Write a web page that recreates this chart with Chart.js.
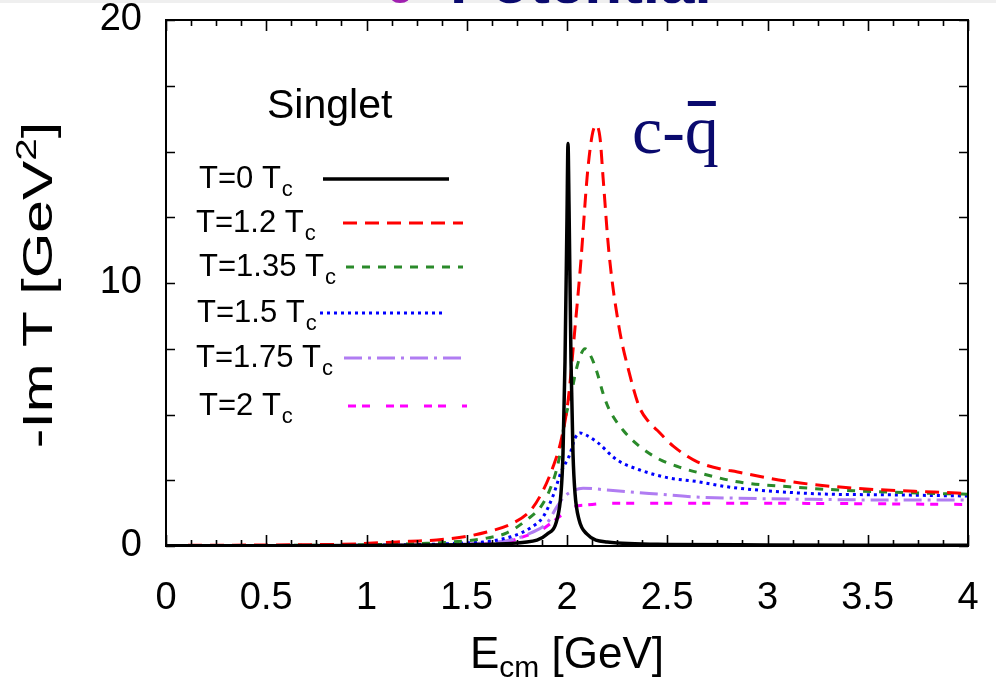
<!DOCTYPE html>
<html>
<head>
<meta charset="utf-8">
<script src="https://cdn.jsdelivr.net/npm/chart.js@4.4.1/dist/chart.umd.min.js"></script>
<style>
html,body{margin:0;padding:0;background:#fff;}
canvas{display:block;}
</style>
</head>
<body>
<canvas id="c" width="996" height="681"></canvas>
<script>
// ---------- data ----------
const seriesLabels = ['T=0', 'T=1.2', 'T=1.35', 'T=1.5', 'T=1.75', 'T=2'];

const xT0   = [0, 0.5, 1.0, 1.5, 1.8, 1.9, 1.95, 1.97, 1.98, 1.99, 2.0, 2.005, 2.01, 2.02, 2.03, 2.04, 2.06, 2.1, 2.2, 2.5, 3.0, 3.5, 4.0];
const yT0   = [0.01, 0.01, 0.02, 0.05, 0.15, 0.45, 1.0, 2.0, 3.5, 7.0, 12.5, 15.3, 13.0, 7.0, 3.5, 2.0, 1.0, 0.45, 0.15, 0.06, 0.04, 0.03, 0.03];

const xT12  = [0, 0.5, 0.95, 1.08, 1.22, 1.35, 1.48, 1.6, 1.73, 1.82, 1.88, 1.93, 1.97, 2.005, 2.04, 2.07, 2.1, 2.125, 2.145, 2.165, 2.18, 2.21, 2.26, 2.31, 2.36, 2.41, 2.45, 2.53, 2.65, 2.88, 3.13, 3.43, 3.83, 4.0];
const yT12  = [0.02, 0.04, 0.08, 0.13, 0.18, 0.23, 0.34, 0.53, 0.87, 1.37, 2.1, 3.0, 4.0, 5.5, 8.3, 10.9, 14.0, 15.6, 16.0, 15.5, 14.0, 11.1, 8.3, 6.6, 5.3, 4.7, 4.4, 3.8, 3.2, 2.77, 2.43, 2.2, 2.05, 2.0];

const xT135 = [0, 0.5, 1.0, 1.3, 1.5, 1.6, 1.7, 1.8, 1.87, 1.92, 1.96, 1.99, 2.02, 2.04, 2.065, 2.09, 2.12, 2.15, 2.18, 2.21, 2.28, 2.36, 2.46, 2.56, 2.65, 2.86, 3.11, 3.43, 3.83, 4.0];
const yT135 = [0.01, 0.02, 0.05, 0.1, 0.2, 0.3, 0.5, 1.0, 1.5, 2.25, 3.3, 4.8, 5.7, 6.5, 7.2, 7.5, 7.2, 6.6, 5.8, 5.2, 4.4, 3.8, 3.3, 3.0, 2.8, 2.43, 2.25, 2.1, 2.0, 1.97];

const xT15  = [0, 0.5, 1.0, 1.3, 1.5, 1.58, 1.72, 1.82, 1.88, 1.93, 1.97, 2.015, 2.04, 2.065, 2.1, 2.15, 2.25, 2.36, 2.5, 2.65, 2.8, 3.2, 3.66, 4.0];
const yT15  = [0.01, 0.01, 0.03, 0.06, 0.12, 0.15, 0.35, 0.7, 1.1, 1.9, 2.8, 3.5, 4.1, 4.3, 4.2, 3.95, 3.27, 2.9, 2.6, 2.45, 2.25, 2.0, 1.94, 1.9];

const xT175 = [0, 0.5, 1.0, 1.5, 1.72, 1.82, 1.9, 1.95, 1.99, 2.03, 2.08, 2.2, 2.41, 2.63, 2.83, 3.16, 3.58, 4.0];
const yT175 = [0.01, 0.01, 0.02, 0.08, 0.23, 0.5, 0.87, 1.5, 1.9, 2.1, 2.2, 2.13, 2.0, 1.87, 1.82, 1.78, 1.75, 1.75];

const xT2   = [0, 0.5, 1.0, 1.5, 1.7, 1.78, 1.87, 1.92, 1.96, 2.0, 2.04, 2.1, 2.21, 2.63, 3.2, 4.0];
const yT2   = [0.01, 0.01, 0.02, 0.06, 0.15, 0.35, 0.6, 0.87, 1.1, 1.3, 1.5, 1.56, 1.63, 1.63, 1.62, 1.58];

const xTickLabels = [0, 0.5, 1, 1.5, 2, 2.5, 3, 3.5, 4];
const yTickLabels = [0, 10, 20];
const xMinorStep = 0.125;
const yMinorStep = 2.5;

// ---------- build ----------
function pts(xs, ys) { return xs.map((x, i) => ({x: x, y: ys[i]})); }

const styles = [
  {color: '#000000', dash: [],              width: 3.5},
  {color: '#ff0000', dash: [14, 8],         width: 3},
  {color: '#2a8a2a', dash: [8, 8],          width: 3},
  {color: '#0000ff', dash: [3, 4],          width: 3},
  {color: '#b07cf2', dash: [18, 6, 3, 6],   width: 3},
  {color: '#ff00ff', dash: [8, 6, 8, 16],   width: 3}
];
const seriesX = [xT0, xT12, xT135, xT15, xT175, xT2];
const seriesY = [yT0, yT12, yT135, yT15, yT175, yT2];

const datasets = seriesLabels.map((lab, i) => ({
  label: lab + ' Tc',
  data: pts(seriesX[i], seriesY[i]),
  borderColor: styles[i].color,
  backgroundColor: styles[i].color,
  borderDash: styles[i].dash,
  borderWidth: styles[i].width,
  pointRadius: 0,
  fill: false,
  cubicInterpolationMode: 'monotone',
  tension: 0.4
}));

const SANS = '"Liberation Sans", Arial, Helvetica, sans-serif';
const SERIF = '"Liberation Serif", "Times New Roman", serif';

function noPad(s) { s.paddingLeft = 0; s.paddingRight = 0; s.paddingTop = 0; s.paddingBottom = 0; }

const decor = {
  id: 'decor',
  beforeDraw(chart) {
    const ctx = chart.ctx;
    ctx.save();
    ctx.fillStyle = '#ffffff';
    ctx.fillRect(0, 0, chart.width, chart.height);
    ctx.fillStyle = '#efefef';
    ctx.fillRect(0, 0, chart.width, 3);
    ctx.beginPath(); ctx.rect(0, 0, chart.width, 3.5); ctx.clip();
    ctx.textBaseline = 'alphabetic';
    ctx.fillStyle = '#a020b0';
    ctx.font = 'bold 34px ' + SANS;
    ctx.fillText('U', 388, 3);
    ctx.fillStyle = '#0a0a6e';
    ctx.font = 'bold 62px ' + SANS;
    ctx.fillText('Potential', 450, 3);
    ctx.restore();
  },
  afterDraw(chart) {
    const ctx = chart.ctx;
    const a = chart.chartArea;
    const xs = chart.scales.x, ys = chart.scales.y;
    ctx.save();
    ctx.strokeStyle = '#000';
    ctx.lineWidth = 2;
    ctx.strokeRect(a.left, a.top, a.right - a.left, a.bottom - a.top);
    ctx.lineWidth = 1.6;
    const nx = Math.round((xs.max - xs.min) / xMinorStep);
    for (let i = 0; i <= nx; i++) {
      const v = xs.min + i * xMinorStep;
      const px = Math.round(xs.getPixelForValue(v)) + 0.5;
      const len = (i % 4 === 0) ? 11 : 6;
      ctx.beginPath();
      ctx.moveTo(px, a.bottom); ctx.lineTo(px, a.bottom - len);
      ctx.moveTo(px, a.top); ctx.lineTo(px, a.top + len);
      ctx.stroke();
    }
    const ny = Math.round((ys.max - ys.min) / yMinorStep);
    for (let i = 0; i <= ny; i++) {
      const v = ys.min + i * yMinorStep;
      const py = Math.round(ys.getPixelForValue(v)) + 0.5;
      const len = 9;
      ctx.beginPath();
      ctx.moveTo(a.left, py); ctx.lineTo(a.left + len, py);
      ctx.moveTo(a.right, py); ctx.lineTo(a.right - len, py);
      ctx.stroke();
    }

    ctx.fillStyle = '#000';
    ctx.textBaseline = 'alphabetic';
    // x title  E_cm [GeV]
    const tE = 'E', tSub = 'cm', tRest = ' [GeV]';
    ctx.font = '44px ' + SANS; const wE = ctx.measureText(tE).width;
    ctx.font = '30px ' + SANS; const wS = ctx.measureText(tSub).width;
    ctx.font = '44px ' + SANS; const wR = ctx.measureText(tRest).width;
    const cx = (a.left + a.right) / 2;
    const x0 = cx - (wE + wS + wR) / 2;
    const by = 668;
    ctx.font = '44px ' + SANS; ctx.fillText(tE, x0, by);
    ctx.font = '30px ' + SANS; ctx.fillText(tSub, x0 + wE, by + 9);
    ctx.font = '44px ' + SANS; ctx.fillText(tRest, x0 + wE + wS, by);

    // y title  -Im T [GeV^2]  (stretched along its length like the reference)
    ctx.save();
    ctx.translate(52, 285);
    ctx.rotate(-Math.PI / 2);
    ctx.scale(1.4, 1);
    const t1 = '-Im T [GeV', t2 = '2', t3 = ']';
    ctx.font = '42px ' + SANS; const w1 = ctx.measureText(t1).width;
    ctx.font = '29px ' + SANS; const w2 = ctx.measureText(t2).width;
    ctx.font = '42px ' + SANS; const w3 = ctx.measureText(t3).width;
    const yx = -(w1 + w2 + w3) / 2;
    ctx.font = '42px ' + SANS; ctx.fillText(t1, yx, 0);
    ctx.font = '29px ' + SANS; ctx.fillText(t2, yx + w1, -16);
    ctx.font = '42px ' + SANS; ctx.fillText(t3, yx + w1 + w2, 0);
    ctx.restore();

    // "Singlet"
    ctx.font = '41px ' + SANS;
    ctx.fillText('Singlet', 267, 118);

    // legend
    const legY = [179, 223, 267, 313, 358, 406];
    const legTx = [199, 196, 199, 197, 196, 199];
    const legL = [[323, 449], [343, 463], [346, 463], [320, 445], [344, 464], [348, 467]];
    chart.data.datasets.forEach((ds, i) => {
      const ly = legY[i];
      ctx.fillStyle = '#000';
      ctx.font = '31px ' + SANS;
      const main = seriesLabels[i] + ' T';
      ctx.fillText(main, legTx[i], ly + 9);
      const mw = ctx.measureText(main).width;
      ctx.font = '22px ' + SANS;
      ctx.fillText('c', legTx[i] + mw + 1, ly + 17);
      ctx.save();
      ctx.strokeStyle = ds.borderColor;
      ctx.lineWidth = ds.borderWidth;
      ctx.setLineDash(ds.borderDash);
      ctx.beginPath();
      ctx.moveTo(legL[i][0], ly); ctx.lineTo(legL[i][1], ly);
      ctx.stroke();
      ctx.restore();
    });

    // c-q̄ label
    ctx.fillStyle = '#0a0a6e';
    ctx.font = '68px ' + SERIF;
    const lx = 632, lb = 153;
    const wc = ctx.measureText('c-').width;
    const wq = ctx.measureText('q').width;
    ctx.fillText('c-q', lx, lb);
    ctx.fillRect(lx + wc + 3, 101, wq - 6, 5);
    ctx.restore();
  }
};

new Chart(document.getElementById('c'), {
  type: 'line',
  data: { datasets: datasets },
  options: {
    responsive: false,
    animation: false,
    layout: { padding: { top: 20, right: 28, left: 0, bottom: 0 } },
    plugins: { legend: { display: false }, tooltip: { enabled: false }, title: { display: false } },
    scales: {
      x: {
        type: 'linear',
        min: 0, max: 4,
        afterFit(s) { s.height = 135; noPad(s); },
        afterBuildTicks(s) { s.ticks = xTickLabels.map(v => ({value: v})); },
        ticks: { color: '#000', font: { size: 38, family: SANS }, padding: 30, maxRotation: 0, autoSkip: false,
                 callback: (v) => String(v) },
        grid: { display: false, drawTicks: false },
        border: { display: false }
      },
      y: {
        type: 'linear',
        min: 0, max: 20,
        afterFit(s) { s.width = 166; noPad(s); },
        afterBuildTicks(s) { s.ticks = yTickLabels.map(v => ({value: v})); },
        ticks: { color: '#000', font: { size: 38, family: SANS }, padding: 24, callback: (v) => String(v) },
        grid: { display: false, drawTicks: false },
        border: { display: false }
      }
    }
  },
  plugins: [decor]
});
</script>
</body>
</html>
